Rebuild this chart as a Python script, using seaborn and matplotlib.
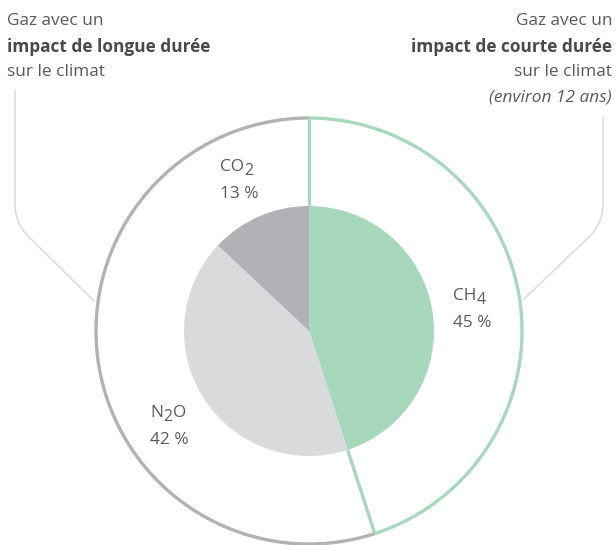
import numpy as np
import matplotlib
matplotlib.use("Agg")
import matplotlib.pyplot as plt
import seaborn as sns
from matplotlib.patches import Arc
from matplotlib.path import Path
from matplotlib.patches import PathPatch

# data
gas_parts = [[("CH", 0), ("4", 1)], [("N", 0), ("2", 1), ("O", 0)], [("CO", 0), ("2", 1)]]
shares = [45, 42, 13]
share_labels = ["45 %", "42 %", "13 %"]
colors = ["#a8d8bb", "#d9dadc", "#b1b2b5"]
ring_colors = ["#a8d8bb", "#b1b2b5"]  # courte durée / longue durée

sns.set_theme(style="white")
plt.rcParams['font.family'] = ['Open Sans', 'DejaVu Sans']
txt = "#5a5a5a"

fig = plt.figure(figsize=(6.16, 5.45), dpi=100)
ax = fig.add_axes([0, 0, 1, 1])

H = 545
cx, cy = 309, H - 331
r_in, r_out = 125, 213

ax.pie(shares, colors=colors, startangle=90, counterclock=False,
       center=(cx, cy), radius=r_in, frame=True,
       wedgeprops=dict(linewidth=0))
ax.set_xlim(0, 616)
ax.set_ylim(0, 545)
ax.set_aspect("equal")
ax.axis("off")

# outer ring: short-lived (CH4) vs long-lived (N2O + CO2)
split = 90 - shares[0] / 100 * 360
ax.add_patch(Arc((cx, cy), 2 * r_out, 2 * r_out, theta1=split, theta2=90,
                 color=ring_colors[0], lw=2.4, zorder=3))
ax.add_patch(Arc((cx, cy), 2 * r_out, 2 * r_out, theta1=90, theta2=360 + split,
                 color=ring_colors[1], lw=2.4, zorder=2))
for a in [90, split]:
    t = np.deg2rad(a)
    ax.plot([cx + r_in * np.cos(t), cx + r_out * np.cos(t)],
            [cy + r_in * np.sin(t), cy + r_out * np.sin(t)],
            color=ring_colors[0], lw=2.4, zorder=4, solid_capstyle="butt")

# brackets
def bracket(pts):
    verts = [pts[0], pts[1], pts[2], pts[3]]
    codes = [Path.MOVETO, Path.LINETO, Path.CURVE3, Path.CURVE3]
    p = Path([(x, H - y) for x, y in verts], codes)
    ax.add_patch(PathPatch(p, fill=False, edgecolor="#dadada", lw=1.1))
    ax.plot([pts[3][0], pts[4][0]], [H - pts[3][1], H - pts[4][1]],
            color="#dadada", lw=1.1)

bracket([(15, 90), (15, 205), (15, 222), (27, 235), (94, 301)])
bracket([(603, 117), (603, 205), (603, 222), (591, 235), (523, 300)])

# headers
fs = 12.4
ax.text(7, H - 21, "Gaz avec un", fontsize=fs, color=txt, va="center")
ax.text(7, H - 47, "impact de longue durée", fontsize=fs, color="#4a4a4a",
        va="center", fontweight="bold")
ax.text(7, H - 72, "sur le climat", fontsize=fs, color=txt, va="center")

ax.text(612, H - 21, "Gaz avec un", fontsize=fs, color=txt, va="center", ha="right")
ax.text(612, H - 47, "impact de courte durée", fontsize=fs, color="#4a4a4a",
        va="center", ha="right", fontweight="bold")
ax.text(612, H - 72, "sur le climat", fontsize=fs, color=txt, va="center", ha="right")
ax.text(612, H - 98, "(environ 12 ans)", fontsize=fs, color=txt, va="center",
        ha="right", style="italic")

# slice labels, with hand-placed subscripts
fig.canvas.draw()
renderer = fig.canvas.get_renderer()
label_pos = [(453, 296), (150, 413), (220, 167)]
for parts, s, (x, y) in zip(gas_parts, share_labels, label_pos):
    xx = x
    for piece, sub in parts:
        t = ax.text(xx, H - y - (4 if sub else 0), piece,
                    fontsize=fs * (0.92 if sub else 1), color=txt, va="center")
        bb = t.get_window_extent(renderer)
        xx += bb.width + 0.5
    ax.text(x, H - y - 27, s, fontsize=fs, color=txt, va="center")

fig.savefig("out.png", dpi=100)
